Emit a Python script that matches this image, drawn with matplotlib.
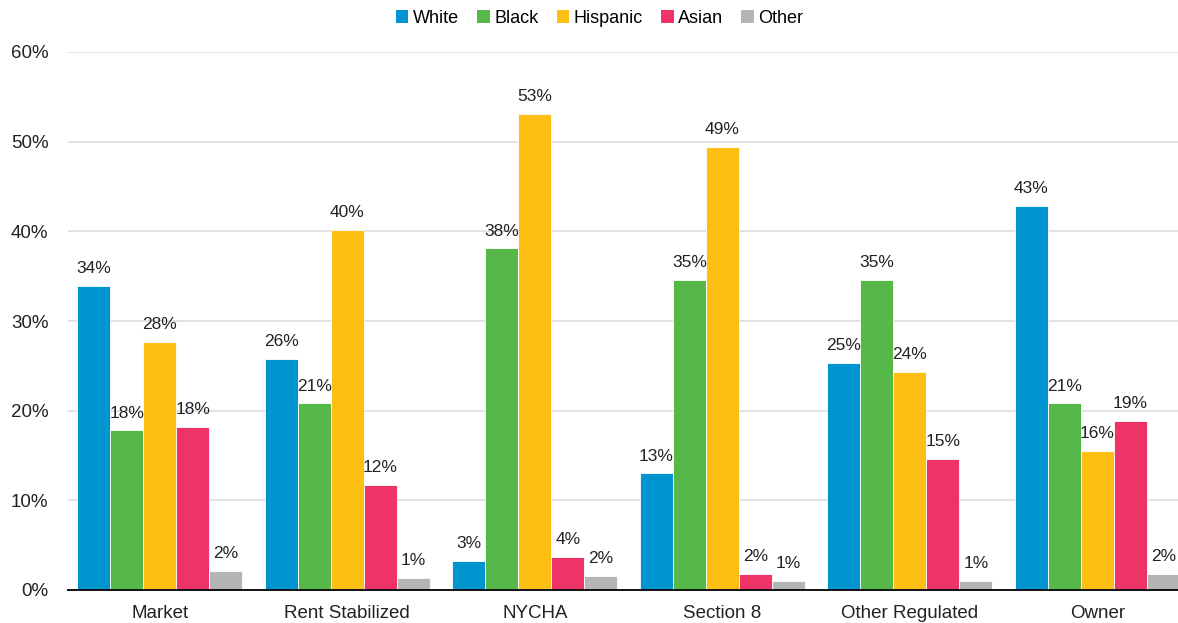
import numpy as np
import matplotlib.pyplot as plt
from matplotlib.patches import Patch

plt.rcParams['font.family'] = ['Liberation Sans', 'DejaVu Sans']

# ============================================================
# Data (share of households by tenure, %)
# ============================================================
categories = ["Market", "Rent Stabilized", "NYCHA", "Section 8", "Other Regulated", "Owner"]
groups     = ["White", "Black", "Hispanic", "Asian", "Other"]

white    = [33.9, 25.8, 3.2, 13.0, 25.3, 42.8]
black    = [17.8, 20.8, 38.1, 34.6, 34.6, 20.8]
hispanic = [27.7, 40.2, 53.1, 49.4, 24.3, 15.5]
asian    = [18.2, 11.7, 3.7, 1.8, 14.6, 18.9]
other    = [2.1, 1.3, 1.6, 1.0, 1.0, 1.8]

colors = ["#0094D1", "#57B84A", "#FDBF14", "#EE3366", "#B5B5B5"]

series = [white, black, hispanic, asian, other]

# ============================================================
# Plot
# ============================================================
fig = plt.figure(figsize=(11.78, 6.23), dpi=100)
ax = fig.add_axes([68 / 1178, 33 / 623, 1 - 68 / 1178, 538 / 623])

x = np.arange(len(categories))
width = 0.176
for i, (vals, col) in enumerate(zip(series, colors)):
    pos = x + (i - 2) * width
    ax.bar(pos, vals, width, color=col, edgecolor="white", linewidth=0.6, zorder=3)
    for px, v in zip(pos, vals):
        ax.text(px, v + 1.1, f"{v:.0f}%", ha="center", va="bottom",
                fontsize=12.5, color="#222222", zorder=4)

ax.set_ylim(0, 60)
ax.set_xlim(-0.49, 5.43)
ax.set_yticks(np.arange(0, 61, 10))
ax.set_yticklabels([f"{t}%" for t in range(0, 61, 10)], fontsize=13.5, color="#222222")
ax.set_xticks(x)
ax.set_xticklabels(categories, fontsize=13.5, color="#222222")
ax.tick_params(axis="both", length=0)
ax.tick_params(axis="y", pad=14)
ax.tick_params(axis="x", pad=11)

ax.grid(axis="y", color="#DDDDDD", linewidth=1.2, zorder=0)
for s in ["top", "right", "left"]:
    ax.spines[s].set_visible(False)
ax.spines["bottom"].set_color("#111111")
ax.spines["bottom"].set_linewidth(1.4)
ax.spines["bottom"].set_zorder(5)

handles = [Patch(facecolor=c, label=g) for g, c in zip(groups, colors)]
fig.legend(handles=handles, loc="upper center", bbox_to_anchor=(0.509, 1.01),
           ncol=5, frameon=False, fontsize=13, handlelength=0.7, handleheight=0.7,
           handletextpad=0.25, columnspacing=1.0)

fig.savefig("out.png", dpi=100)
